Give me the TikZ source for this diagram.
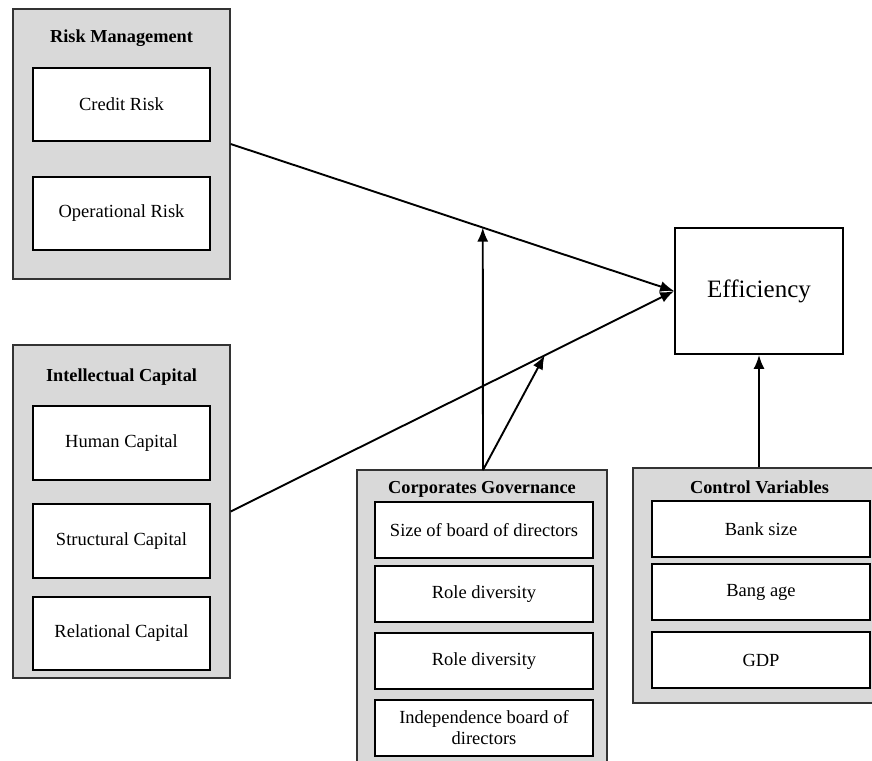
\documentclass[tikz,border=0pt]{standalone}
\usepackage{fontspec}
\setmainfont{Liberation Serif}
\usetikzlibrary{arrows.meta,calc}
\definecolor{grp}{HTML}{D9D9D9}
\begin{document}
\begin{tikzpicture}[x=1pt,y=-1pt,
  outerbox/.style={draw=black!80,line width=1.3pt,fill=grp,minimum width=#1,inner sep=0pt},
  inbox/.style={draw=black,line width=1.8pt,fill=white,inner sep=0pt,align=center,
     font=\fontsize{18.5}{20}\selectfont},
  ttl/.style={font=\fontsize{18.3}{20}\selectfont\bfseries,inner sep=0pt},
  conn/.style={line width=1.9pt,-{Latex[length=14pt,width=11pt]}}]
\useasboundingbox (0,0) rectangle (872,760);
% Risk Management
\node[outerbox=217pt,minimum height=270pt] (RM) at (121.5,144) {};
\node[ttl] (RMt) at (121.5,38) {Risk Management};
\node[inbox,minimum width=177pt,minimum height=73pt] (CR) at (121.5,104.5) {Credit Risk};
\node[inbox,minimum width=177pt,minimum height=73pt] (OR) at (121.5,213.5) {Operational Risk};
% Intellectual Capital
\node[outerbox=217pt,minimum height=333pt] (IC) at (121.5,511.5) {};
\node[ttl] (ICt) at (121.5,377) {Intellectual Capital};
\node[inbox,minimum width=177pt,minimum height=74pt] (HC) at (121.5,443) {Human Capital};
\node[inbox,minimum width=177pt,minimum height=74pt] (SC) at (121.5,541) {Structural Capital};
\node[inbox,minimum width=177pt,minimum height=73pt] (RC) at (121.5,633.5) {Relational Capital};
% Corporates Governance
\node[outerbox=250pt,minimum height=294pt] (CG) at (482,617) {};
\node[ttl] (CGt) at (482,489) {Corporates Governance};
\node[inbox,minimum width=218pt,minimum height=56pt] (SB) at (484,530) {Size of board of directors};
\node[inbox,minimum width=218pt,minimum height=56pt] (RD1) at (484,594) {Role diversity};
\node[inbox,minimum width=218pt,minimum height=56pt] (RD2) at (484,661) {Role diversity};
\node[inbox,minimum width=218pt,minimum height=56pt] (IB) at (484,728) {Independence board of\\[1pt]directors};
% Control Variables
\node[outerbox=242pt,minimum height=235pt] (CV) at (754,585.5) {};
\node[ttl] (CVt) at (759.5,487) {Control Variables};
\node[inbox,minimum width=218pt,minimum height=56pt] (BS) at (761,529) {Bank size};
\node[inbox,minimum width=218pt,minimum height=56pt] (BA) at (761,592) {Bang age};
\node[inbox,minimum width=218pt,minimum height=56pt] (GDP) at (761,660) {GDP};
% Efficiency
\node[draw,line width=1.8pt,fill=white,minimum width=168pt,minimum height=126pt,
  font=\fontsize{25}{27}\selectfont] (EF) at (759,291) {Efficiency};
% connectors
\draw[conn] (RM.east) -- (EF.west);
\draw[conn] (IC.east) -- (EF.west);
\coordinate (m1) at ($(RM.east)!0.5685!(EF.west)$);
\coordinate (m2) at ($(IC.east)!0.708!(EF.west)$);
\coordinate (cgt) at (483,470);
\draw[conn] (cgt) -- (m1);
\draw[conn] (cgt) -- (m2);
\draw[conn] (CV.north -| EF.south) -- (EF.south);
\end{tikzpicture}
\end{document}
